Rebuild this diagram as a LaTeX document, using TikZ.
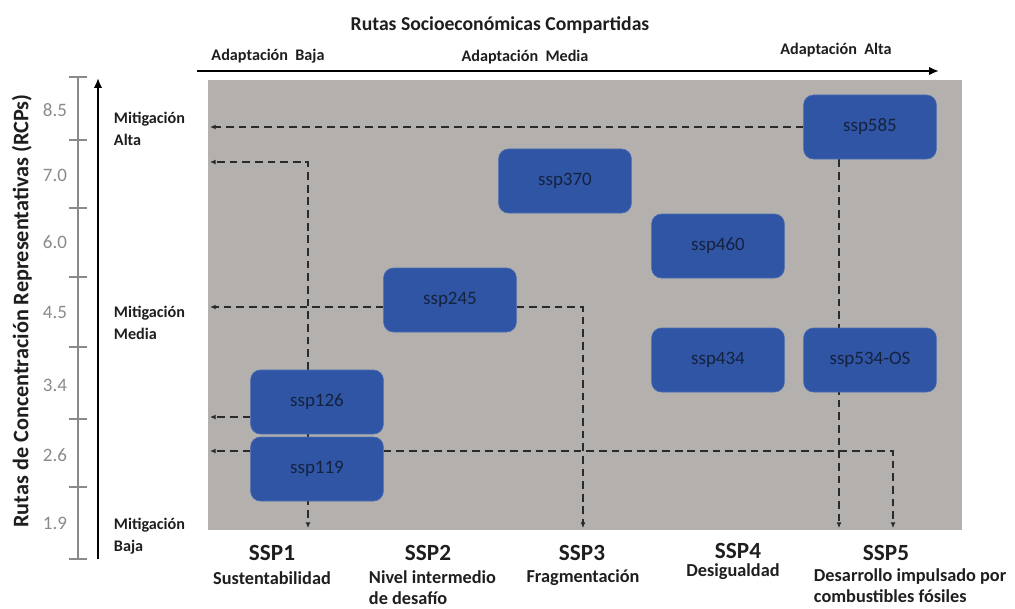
\documentclass[tikz,border=0pt]{standalone}
\usepackage{fontspec}
\setmainfont{Carlito}
\usetikzlibrary{arrows.meta}
\pgfdeclarelayer{panel}
\pgfdeclarelayer{links}
\pgfsetlayers{panel,links,main}
\definecolor{panelgray}{HTML}{B4B0AE}
\definecolor{sspblue}{HTML}{2F55A4}
\definecolor{sspedge}{HTML}{4A6DB3}
\definecolor{sspink}{HTML}{15223F}
\definecolor{guidecol}{HTML}{2A2A2A}
\definecolor{scalegray}{HTML}{8A8A8A}
\definecolor{labelink}{HTML}{1E1E1E}
\tikzstyle{ssp} = [draw=sspedge, fill=sspblue, rectangle, rounded corners=7pt,
minimum height=1.6cm, minimum width=3.32cm, text=sspink, font=\fontsize{13.5}{15}\selectfont]
\tikzstyle{guide} = [dash pattern=on 5.5pt off 3.5pt, line width=1.3pt, draw=guidecol,
-{Latex[length=4pt,width=3.5pt]}]
\tikzstyle{axisline} = [line width=1.8pt, -{Latex[length=7pt,width=6pt]}]
\tikzstyle{rcp} = [text=scalegray, font=\fontsize{13.5}{15}\selectfont]
\tikzstyle{mitig} = [align=left, anchor=west, text=labelink, font=\bfseries\fontsize{11.5}{16}\selectfont]
\tikzstyle{adapt} = [text=labelink, font=\bfseries\fontsize{11.5}{13}\selectfont]
\tikzstyle{sspname} = [text=labelink, font=\bfseries\fontsize{16.5}{18}\selectfont]
\tikzstyle{sspdesc} = [text=labelink, align=left, font=\bfseries\fontsize{13}{15}\selectfont]

\begin{document}
\begin{tikzpicture}[x=0.025cm, y=-0.025cm]
\useasboundingbox (0,0) rectangle (1015,608);

% titles and axes
\node [text=labelink, font=\bfseries\fontsize{14}{16}\selectfont] (title) at (500,25) {Rutas Socioeconómicas Compartidas};
\node [adapt] (adbaja) at (268,56) {Adaptación\ \ Baja};
\node [adapt] (admedia) at (525,57) {Adaptación\ \ Media};
\node [adapt] (adalta) at (836,50) {Adaptación\ \ Alta};

\coordinate (hstart) at (197,71);
\coordinate (hend) at (939,71);
\draw [axisline] (hstart) -- (hend);

\node [rotate=90, text=labelink, font=\bfseries\fontsize{15.8}{17}\selectfont] (rcplabel) at (22,311)
{Rutas de Concentración Representativas (RCPs)};

% RCP scale
\draw [scalegray, line width=1pt] (78,77) -- (78,559);
\foreach \y in {77,140,208,277,347,419,487,559}
  \draw [scalegray, line width=1pt] (69,\y) -- (87,\y);
\foreach \v/\y [count=\i] in {8.5/110,7.0/175,6.0/242,4.5/312,3.4/385,2.6/455,1.9/523}
  \node [rcp] (rcp\i) at (55,\y) {\v};

\coordinate (vstart) at (98,559);
\coordinate (vend) at (98,78);
\draw [axisline] (vstart) -- (vend);

\node [mitig] (malta) at (109,129) {Mitigación\\Alta};
\node [mitig] (mmedia) at (109,323) {Mitigación\\Media};
\node [mitig] (mbaja) at (109,536) {Mitigación\\Baja};

% panel
\begin{pgfonlayer}{panel}
\fill [panelgray] (208,80) rectangle (962,530);
\end{pgfonlayer}

% scenarios
\node [ssp] (ssp585) at (870,127) {ssp585};
\node [ssp] (ssp370) at (565,181) {ssp370};
\node [ssp] (ssp460) at (718,246) {ssp460};
\node [ssp] (ssp245) at (450,300) {ssp245};
\node [ssp] (ssp434) at (718,360) {ssp434};
\node [ssp] (ssp534) at (870,360) {ssp534-OS};
\node [ssp] (ssp126) at (317,402) {ssp126};
\node [ssp] (ssp119) at (317,469) {ssp119};

\coordinate (gl) at (210,0);
\coordinate (gb) at (0,528);
\coordinate (c1) at (308,162);
\coordinate (c3) at (583,307);
\coordinate (c5a) at (839,0);
\coordinate (c5b) at (893,451);
\coordinate (y126) at (0,417);

\begin{pgfonlayer}{links}
\draw [guide] (ssp585.west) -- (ssp585.west -| gl);
\draw [guide] (ssp585.south -| c5a) -- (c5a |- gb);
\draw [guide] (ssp126.north -| c1) -- (c1) -- (c1 -| gl);
\draw [guide] (ssp126.south -| c1) -- (c1 |- gb);
\draw [guide] (ssp126.west |- y126) -- (gl |- y126);
\draw [guide] (ssp119.west |- c5b) -- (gl |- c5b);
\draw [guide] (ssp119.east |- c5b) -- (c5b) -- (c5b |- gb);
\draw [guide] (ssp245.west |- c3) -- (gl |- c3);
\draw [guide] (ssp245.east |- c3) -- (c3) -- (c3 |- gb);
\end{pgfonlayer}

% SSP names
\node [sspname] (ssp1) at (272,553) {SSP1};
\node [sspname] (ssp2) at (428,553) {SSP2};
\node [sspname] (ssp3) at (582,553) {SSP3};
\node [sspname] (ssp4) at (738,551) {SSP4};
\node [sspname] (ssp5) at (886,553) {SSP5};

\node [sspdesc] (desc1) at (272,578) {Sustentabilidad};
\node [sspdesc, anchor=north west] (desc2) at (364,566) {Nivel intermedio\\de desafío};
\node [sspdesc] (desc3) at (583,578) {Fragmentación};
\node [sspdesc] (desc4) at (733,572) {Desigualdad};
\node [sspdesc, anchor=north west] (desc5) at (809,564) {Desarrollo impulsado por\\combustibles fósiles};
\end{tikzpicture}
\end{document}
